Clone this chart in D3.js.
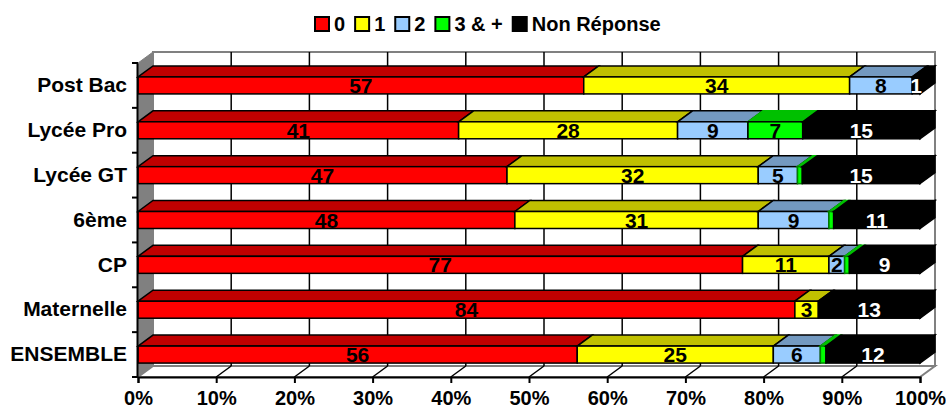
<!DOCTYPE html>
<html>
<head>
<meta charset="utf-8">
<script src="https://cdn.jsdelivr.net/npm/d3@7"></script>
<style>
  body { margin: 0; background: #fff; }
  text { font-family: "Liberation Sans", Arial, sans-serif; font-weight: bold; }
</style>
</head>
<body>
<div id="chart"></div>
<script>
var categories = ["Post Bac", "Lycée Pro", "Lycée GT", "6ème", "CP", "Maternelle", "ENSEMBLE"];
var seriesNames = ["0", "1", "2", "3 & +", "Non Réponse"];
var values0 = [57, 41, 47, 48, 77, 84, 56];
var values1 = [34, 28, 32, 31, 11, 3, 25];
var values2 = [8, 9, 5, 9, 2, 0, 6];
var values3 = [0, 7, 0.6, 0.6, 0.6, 0, 0.7];
var valuesNR = [1, 15, 15, 11, 9, 13, 12];
var xTicks = [0, 0.1, 0.2, 0.3, 0.4, 0.5, 0.6, 0.7, 0.8, 0.9, 1];

var frontColors = ["#ff0000", "#ffff00", "#99ccff", "#00ff00", "#000000"];
var topColors = ["#c00000", "#c0c000", "#7399c0", "#00c000", "#000000"];
var labelColors = ["#000", "#000", "#000", "#000", "#fff"];

var width = 946, height = 410;
var plotLeft = 138, plotRight = 920, plotTop = 63, plotBottom = 377;
var dx = 15, dy = -11;
var barHeight = 17;

var rows = categories.map(function(c, i) {
  return { cat: c, s0: values0[i], s1: values1[i], s2: values2[i], s3: values3[i], s4: valuesNR[i] };
});
var keys = ["s0", "s1", "s2", "s3", "s4"];
var stacked = d3.stack().keys(keys).offset(d3.stackOffsetExpand)(rows);

var x = d3.scaleLinear().domain([0, 1]).range([plotLeft, plotRight]);
var y = d3.scaleBand().domain(categories).range([plotTop, plotBottom]);

var svg = d3.select("#chart").append("svg")
  .attr("width", width)
  .attr("height", height);

function poly(pts) {
  return "M" + pts.map(function(p) { return p[0] + "," + p[1]; }).join("L") + "Z";
}

// back wall
svg.append("rect")
  .attr("x", plotLeft + dx).attr("y", plotTop + dy)
  .attr("width", plotRight - plotLeft).attr("height", plotBottom - plotTop)
  .attr("fill", "#fff").attr("stroke", "#808080").attr("stroke-width", 2);

// left wall
svg.append("path")
  .attr("d", poly([[plotLeft, plotTop], [plotLeft + dx, plotTop + dy], [plotLeft + dx, plotBottom + dy], [plotLeft, plotBottom]]))
  .attr("fill", "#808080").attr("stroke", "#808080");

// floor
svg.append("path")
  .attr("d", poly([[plotLeft, plotBottom], [plotLeft + dx, plotBottom + dy], [plotRight + dx, plotBottom + dy], [plotRight, plotBottom]]))
  .attr("fill", "#fff").attr("stroke", "#808080").attr("stroke-width", 2);

// gridlines on back wall and floor
xTicks.slice(1, -1).forEach(function(t) {
  svg.append("line")
    .attr("x1", x(t) + dx).attr("x2", x(t) + dx)
    .attr("y1", plotTop + dy).attr("y2", plotBottom + dy)
    .attr("stroke", "#000").attr("stroke-width", 1.5);
  svg.append("line")
    .attr("x1", x(t)).attr("x2", x(t) + dx)
    .attr("y1", plotBottom).attr("y2", plotBottom + dy)
    .attr("stroke", "#000").attr("stroke-width", 1.5);
});

// bars
var barsG = svg.append("g");
categories.forEach(function(cat, ci) {
  var yc = y(cat) + y.bandwidth() / 2;
  var y0 = yc - barHeight / 2, y1 = yc + barHeight / 2;
  var lastK = -1;
  stacked.forEach(function(layer, k) {
    var d = layer[ci];
    if (d[1] - d[0] <= 0) return;
    lastK = k;
    var xa = x(d[0]), xb = x(d[1]);
    barsG.append("path")
      .attr("d", poly([[xa, y0], [xa + dx, y0 + dy], [xb + dx, y0 + dy], [xb, y0]]))
      .attr("fill", topColors[k])
      .attr("stroke", k === 3 ? "#00c000" : "#000").attr("stroke-width", 1.5);
    barsG.append("rect")
      .attr("x", xa).attr("y", y0)
      .attr("width", xb - xa).attr("height", barHeight)
      .attr("fill", frontColors[k])
      .attr("stroke", k === 3 && xb - xa < 8 ? "#008000" : "#000").attr("stroke-width", 1.5);
  });
  if (lastK >= 0) {
    var xe = x(1);
    barsG.append("path")
      .attr("d", poly([[xe, y0], [xe + dx, y0 + dy], [xe + dx, y1 + dy], [xe, y1]]))
      .attr("fill", frontColors[lastK]).attr("stroke", "#000").attr("stroke-width", 1.5);
  }
  stacked.forEach(function(layer, k) {
    var d = layer[ci];
    var v = d.data[keys[k]];
    if (v < 1) return;
    barsG.append("text")
      .attr("x", (x(d[0]) + x(d[1])) / 2)
      .attr("y", yc)
      .attr("dy", "0.36em")
      .attr("text-anchor", "middle")
      .attr("font-size", 21)
      .attr("fill", labelColors[k])
      .text(Math.round(v));
  });
});

// axes
var xAxis = d3.axisBottom(x).tickValues(xTicks).tickFormat(d3.format(".0%")).tickSize(6).tickPadding(8);
var gx = svg.append("g").attr("transform", "translate(0," + plotBottom + ")").call(xAxis);
gx.select(".domain").attr("stroke", "#000").attr("stroke-width", 2);
gx.selectAll(".tick line").attr("stroke", "#000").attr("stroke-width", 2);
gx.selectAll(".tick text").attr("font-size", 20).attr("fill", "#000")
  .style("font-family", "'Liberation Sans', Arial, sans-serif").style("font-weight", "bold");

var yAxis = d3.axisLeft(y).tickSize(0).tickPadding(10);
var gy = svg.append("g").attr("transform", "translate(" + (plotLeft - 1) + ",0)").call(yAxis);
gy.select(".domain").attr("stroke", "#000").attr("stroke-width", 2);
gy.selectAll(".tick text").attr("font-size", 21).attr("fill", "#000")
  .style("font-family", "'Liberation Sans', Arial, sans-serif").style("font-weight", "bold");
// category separators
categories.concat([null]).forEach(function(c, i) {
  var yy = plotTop + i * y.step();
  svg.append("line")
    .attr("x1", plotLeft - 6).attr("x2", plotLeft)
    .attr("y1", yy).attr("y2", yy)
    .attr("stroke", "#000").attr("stroke-width", 2);
});

// legend
var legend = svg.append("g").attr("transform", "translate(315,24)");
var lx = 0;
seriesNames.forEach(function(name, k) {
  var g = legend.append("g").attr("transform", "translate(" + lx + ",0)");
  g.append("rect").attr("x", 0).attr("y", -7).attr("width", 14).attr("height", 14)
    .attr("fill", frontColors[k]).attr("stroke", "#000").attr("stroke-width", 2);
  var t = g.append("text").attr("x", 19).attr("y", 0).attr("dy", "0.36em")
    .attr("font-size", 20).attr("fill", "#000").text(name);
  lx += 19 + t.node().getComputedTextLength() + 10;
});
</script>
</body>
</html>
